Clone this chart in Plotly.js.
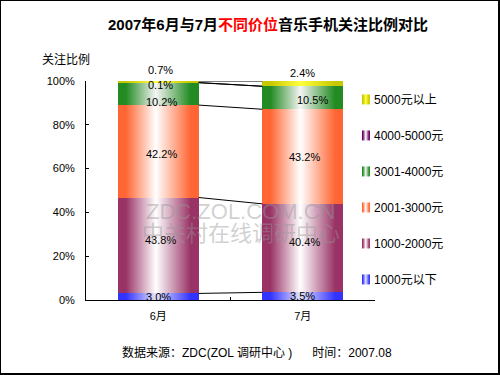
<!DOCTYPE html>
<html>
<head>
<meta charset="utf-8">
<script src="https://cdn.plot.ly/plotly-3.0.1.min.js"></script>
<style>
  html, body { margin: 0; padding: 0; background: #fff; }
  #wrap { width: 500px; height: 375px; box-sizing: border-box; border-style: solid; border-color: #000;
          border-width: 1px 2px 2px 1px; position: relative; overflow: hidden; }
  #chart { width: 497px; height: 372px; }
</style>
</head>
<body>
<svg width="0" height="0" style="position:absolute">
  <defs id="gradDefs"></defs>
</svg>
<div id="wrap"><div id="chart"></div></div>
<script>
// ---------------- data ----------------
const categories = ['6月', '7月'];
const seriesNames = ['1000元以下', '1000-2000元', '2001-3000元', '3001-4000元', '4000-5000元', '5000元以上'];
const june = [3.0, 43.8, 42.2, 10.2, 0.1, 0.7];
const july = [3.5, 40.4, 43.2, 10.5, 0.0, 2.4];
const juneLabels = ['3.0%', '43.8%', '42.2%', '10.2%', '0.1%', '0.7%'];
const julyLabels = ['3.5%', '40.4%', '43.2%', '10.5%', '', '2.4%'];
const yTickVals = [0, 20, 40, 60, 80, 100];
const yTickText = ['0%', '20%', '40%', '60%', '80%', '100%'];
const titleText = '2007年6月与7月<span style="color:#FF0000">不同价位</span>音乐手机关注比例对比';
const yTitleText = '关注比例';
const footerText = '数据来源：ZDC(ZOL 调研中心 )\u00a0\u00a0\u00a0\u00a0\u00a0\u00a0时间：2007.08';
const watermark1 = 'ZDC.ZOL.COM.CN';
const watermark2 = '中关村在线调研中心';

// ---------------- styles ----------------
const edgeColors   = ['#3333FF', '#993366', '#FF6633', '#228B22', '#660066', '#C8C800'];
const centerColors = ['#E4E4FF', '#FFFFFF', '#FFFFFF', '#F4F4F4', '#FFFFFF', '#FFFF40'];
const juneShiftY = [0, 5, -3, -8, -2, 12];
const julyShiftY = [0, 6, 0, -2, 0, 11];
const juneShiftX = [0, 2, 3, 3, 2, 2];
const julyShiftX = [0, 2, 2, 10, 0, 0];
const FONT = 'Liberation Sans, Arial, Noto Sans CJK SC, sans-serif';
const bargap = 0.44;

// gradients
const defs = document.getElementById('gradDefs');
edgeColors.forEach((c, i) => {
  const g = document.createElementNS('http://www.w3.org/2000/svg', 'linearGradient');
  g.setAttribute('id', 'grad' + i);
  g.setAttribute('x1', '0'); g.setAttribute('y1', '0');
  g.setAttribute('x2', '1'); g.setAttribute('y2', '0');
  [[0, c], [0.1, c], [0.47, centerColors[i]], [0.9, c], [1, c]].forEach(([o, col]) => {
    const s = document.createElementNS('http://www.w3.org/2000/svg', 'stop');
    s.setAttribute('offset', o);
    s.setAttribute('stop-color', col);
    g.appendChild(s);
  });
  defs.appendChild(g);
});

// traces
const traces = seriesNames.map((name, i) => ({
  type: 'bar',
  x: categories,
  y: [june[i], july[i]],
  name: name,
  legendgroup: 'g' + i,
  legendrank: 1000 - i,
  marker: { color: edgeColors[i], line: { width: 0 } },
  hoverinfo: 'none'
}));

// labels
const annotations = [];
function addLabels(vals, labels, catIdx, sx, sy) {
  let cum = 0;
  vals.forEach((v, i) => {
    if (labels[i]) {
      annotations.push({
        x: categories[catIdx], y: cum + v / 2, xref: 'x', yref: 'y',
        xanchor: 'center', yanchor: 'middle',
        text: labels[i], showarrow: false,
        font: { family: FONT, size: 11, color: '#000' },
        xshift: sx[i], yshift: sy[i]
      });
    }
    cum += v;
  });
}
addLabels(june, juneLabels, 0, juneShiftX, juneShiftY);
addLabels(july, julyLabels, 1, julyShiftX, julyShiftY);

// connector lines
const shapes = [];
const half = (1 - bargap) / 2;
let c6 = 0, c7 = 0;
june.forEach((v, i) => {
  c6 += june[i]; c7 += july[i];
  shapes.push({ type: 'line', xref: 'x', yref: 'y', x0: 0 + half, x1: 1 - half,
                y0: c6, y1: c7, line: { color: '#000', width: 1 } });
});

// texts
const wmColor = 'rgba(150,150,150,0.45)';
function paperText(x, y, text, font) {
  return { xref: 'paper', yref: 'paper', x: x, y: y, xanchor: 'center', yanchor: 'middle',
           text: text, showarrow: false, font: font };
}
annotations.push(
  paperText(0.630, 1.256, titleText, { family: FONT, size: 15, color: '#000', weight: 'bold' }),
  paperText(-0.069, 1.096, yTitleText, { family: FONT, size: 12, color: '#000' }),
  paperText(0.592, -0.242, footerText, { family: FONT, size: 12, color: '#000' }),
  paperText(0.533, 0.402, watermark1, { family: FONT, size: 22, color: wmColor }),
  paperText(0.536, 0.315, watermark2, { family: 'Noto Sans CJK SC, sans-serif', size: 22, color: wmColor })
);

const layout = {
  width: 497, height: 372,
  margin: { l: 85, r: 123, t: 80, b: 73, pad: 0 },
  paper_bgcolor: '#fff', plot_bgcolor: '#fff',
  font: { family: FONT, size: 11, color: '#000' },
  barmode: 'stack',
  bargap: bargap,
  showlegend: true,
  legend: { x: 0.858, y: 0.982, xanchor: 'left', yanchor: 'top', traceorder: 'grouped',
            tracegroupgap: 17, font: { family: FONT, size: 12, color: '#000' },
            bgcolor: 'rgba(0,0,0,0)', borderwidth: 0 },
  xaxis: { type: 'category', showline: true, linecolor: '#000', linewidth: 1, showgrid: false,
           zeroline: false, ticks: 'inside', tickson: 'boundaries', ticklen: 3, tickcolor: '#000',
           tickfont: { family: FONT, size: 11 }, ticklabelstandoff: 6, fixedrange: true },
  yaxis: { range: [0, 100], showline: true, linecolor: '#000', linewidth: 1, showgrid: false,
           zeroline: false, ticks: 'inside', ticklen: 3, tickcolor: '#000',
           tickvals: yTickVals, ticktext: yTickText, tickfont: { family: FONT, size: 11 },
           ticklabelstandoff: 8, fixedrange: true },
  annotations: annotations,
  shapes: shapes
};

function applyGradients() {
  const gd = document.getElementById('chart');
  gd.querySelectorAll('.barlayer .trace.bars').forEach((tr, i) => {
    let idx = i;
    try { idx = tr.__data__[0].trace.index; } catch (e) {}
    tr.querySelectorAll('.point path').forEach(p => { p.style.fill = 'url(#grad' + idx + ')'; });
  });
  gd.querySelectorAll('.legend .traces').forEach((tr) => {
    let idx = null;
    try { idx = tr.__data__[0].trace.index; } catch (e) {}
    if (idx === null) return;
    tr.querySelectorAll('.legendpoints path').forEach(p => {
      p.style.fill = 'url(#grad' + idx + ')';
      p.style.stroke = 'none';
      p.setAttribute('d', 'M8,-5H16V5H8Z');
    });
  });
}

Plotly.newPlot('chart', traces, layout, { displayModeBar: false, staticPlot: true }).then(applyGradients);
</script>
</body>
</html>
